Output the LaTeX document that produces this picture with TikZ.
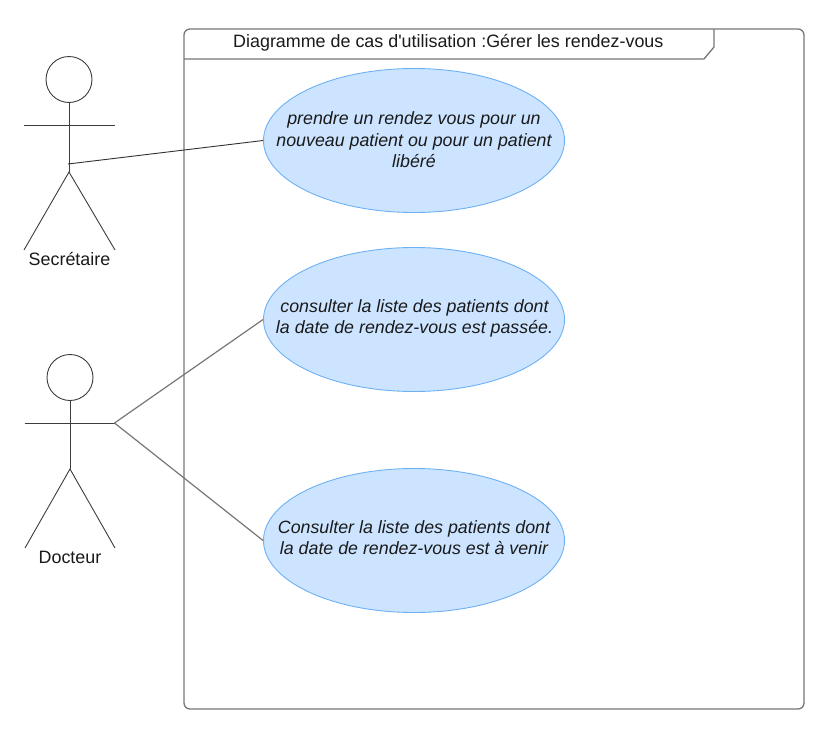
\documentclass[tikz,border=0pt]{standalone}
\usepackage{fontspec}
\setmainfont{Liberation Sans}
\usetikzlibrary{shapes.geometric}
\definecolor{ucfill}{HTML}{CCE4FF}
\definecolor{ucline}{HTML}{6DB1F5}
\definecolor{ink}{HTML}{1A1A1A}
\tikzset{
  x=1pt,y=-1pt,
  frameline/.style={draw=ink!60,line width=1.3pt},
  actorline/.style={draw=ink!85,line width=0.9pt},
  link/.style={draw=ink!60,line width=1.2pt},
  linkdark/.style={draw=ink!90,line width=0.9pt},
  usecase/.style={ellipse,draw=ucline,fill=ucfill,line width=0.9pt,minimum width=301pt,minimum height=144pt,inner sep=0pt},
  uctext/.style={inner sep=0pt,align=center,font=\fontsize{17.8pt}{21.5pt}\selectfont\itshape,text=ink},
  label/.style={inner sep=0pt,font=\fontsize{17.9pt}{20pt}\selectfont,text=ink}
}
\begin{document}
\begin{tikzpicture}
\useasboundingbox (0,0) rectangle (835,731);
% frame
\draw[frameline,rounded corners=6pt] (184,29) rectangle (804,709);
\draw[frameline] (184,59) -- (704,59) -- (714,47) -- (714,29);
\node[label,anchor=base west] (title) at (233,47.5) {Diagramme de cas d\textquotesingle utilisation :Gérer les rendez-vous};
% use cases
\node[usecase] (uc1) at (414,140.5) {};
\node[usecase] (uc2) at (414,319.5) {};
\node[usecase] (uc3) at (414,540.5) {};
\node[uctext] (t1) at (414,140) {prendre un rendez vous pour un\\nouveau patient ou pour un patient\\libéré};
\node[uctext] (t2) at (414.5,318.5) {consulter la liste des patients dont\\la date de rendez-vous est passée.};
\node[uctext] (t3) at (414,537.5) {Consulter la liste des patients dont\\la date de rendez-vous est à venir};
% Secretaire
\node[circle,actorline,minimum size=46pt,inner sep=0pt] (h1) at (69,79.5) {};
\coordinate (s1) at (69,172);
\coordinate (a1l) at (24,125);
\coordinate (a1r) at (115,125);
\coordinate (l1l) at (24,250);
\coordinate (l1r) at (115,250);
\coordinate (c1) at (68,164);
\draw[actorline] (h1.south) -- (s1);
\draw[actorline] (a1l) -- (a1r);
\draw[actorline] (l1l) -- (s1) -- (l1r);
\node[label,anchor=base] (n1) at (69.5,265) {Secrétaire};
% Docteur
\node[circle,actorline,minimum size=46pt,inner sep=0pt] (h2) at (70,377.5) {};
\coordinate (s2) at (70,469);
\coordinate (a2l) at (24.5,423);
\coordinate (a2r) at (114.5,423);
\coordinate (l2l) at (25,548);
\coordinate (l2r) at (115,548);
\draw[actorline] (h2.south) -- (s2);
\draw[actorline] (a2l) -- (a2r);
\draw[actorline] (l2l) -- (s2) -- (l2r);
\node[label,anchor=base] (n2) at (70,563) {Docteur};
% connectors
\draw[linkdark] (c1) -- (uc1.west);
\draw[link] (a2r) -- (uc2.west);
\draw[link] (a2r) -- (uc3.west);
\end{tikzpicture}
\end{document}
